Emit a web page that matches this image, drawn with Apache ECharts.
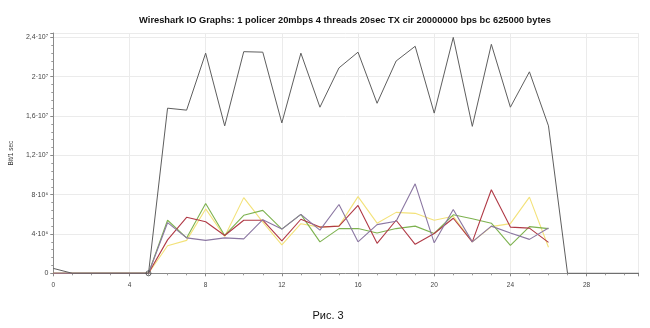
<!DOCTYPE html>
<html>
<head>
<meta charset="utf-8">
<script src="https://cdn.jsdelivr.net/npm/echarts@6/dist/echarts.min.js"></script>
<style>
html,body{margin:0;padding:0;background:#fff;}
#chart{width:650px;height:328px;}
</style>
</head>
<body>
<div id="chart"></div>
<script>
// ---- data (values in bits per second, in millions) ----
var titleText = 'Wireshark IO Graphs: 1 policer 20mbps 4 threads 20sec TX cir 20000000 bps bc 625000 bytes';
var captionText = 'Рис. 3';
var yAxisName = 'Bit/1 sec';
var yTickValues = [0, 4, 8, 12, 16, 20, 24];
var yTickLabels = ['0', '4·10⁶', '8·10⁶', '1,2·10⁷', '1,6·10⁷', '2·10⁷', '2,4·10⁷'];
var xTickValues = [0, 4, 8, 12, 16, 20, 24, 28];

var totalSeries = [0.5,0,0,0,0,0,16.8,16.6,22.4,15.0,22.55,22.5,15.3,22.4,16.9,20.9,22.5,17.3,21.6,23.1,16.3,24.0,14.95,23.3,16.9,20.5,15.0,0,0,0,0,0];
var greenSeries = [0,0,0,0,0,0,5.4,3.6,7.1,3.85,5.9,6.4,4.5,6.0,3.2,4.55,4.55,4.1,4.55,4.8,4.05,5.95,5.55,5.1,2.85,4.75,4.55];
var redSeries = [0,0,0,0,0,0,3.4,5.7,5.25,3.85,5.4,5.4,3.3,5.5,4.7,4.8,6.9,3.05,5.4,2.95,4.05,5.6,3.2,8.5,4.7,4.6,3.15];
var purpleSeries = [0,0,0,0,0,0,5.15,3.6,3.35,3.6,3.5,5.45,4.5,6.0,4.4,7.0,3.2,4.95,5.3,9.1,3.1,6.5,3.2,4.8,4.1,3.45,4.6];
var yellowSeries = [0,0,0,0,0,0,2.8,3.35,6.55,3.75,7.7,5.2,2.9,5.05,4.7,4.8,7.8,5.1,6.2,6.1,5.4,5.8,3.2,4.75,5.05,7.75,2.65];
var markerPoint = [5, 0];

var M = 1e6;
function toPairs(arr){ return arr.map(function(v,i){ return [i, v*M]; }); }

var chart = echarts.init(document.getElementById('chart'), null, {renderer:'canvas'});

function lineSeries(name, arr, color, w, z){
  return {name:name, type:'line', data:toPairs(arr), showSymbol:false, symbol:'none',
    lineStyle:{color:color, width:w}, itemStyle:{color:color}, z:z, clip:true, animation:false};
}

chart.setOption({
  animation:false,
  backgroundColor:'#ffffff',
  title:[{
    text:titleText, left:340, top:11, textAlign:'center',
    textStyle:{fontFamily:'Liberation Sans', fontWeight:'bold', fontSize:9.3, color:'#111'}
  },{
    text:captionText, left:323, top:305, textAlign:'center',
    textStyle:{fontFamily:'Liberation Sans', fontWeight:'normal', fontSize:11, color:'#111'}
  }],
  grid:{left:52, right:12, top:33, bottom:54.7, containLabel:false},
  xAxis:{
    type:'value', min:0, max:30.7, interval:4,
    offset:4,
    axisLine:{show:true, lineStyle:{color:'#8a8a8a', width:1}},
    axisTick:{show:true, length:3, inside:false, lineStyle:{color:'#8a8a8a'}},
    minorTick:{show:true, splitNumber:4, length:2, lineStyle:{color:'#9a9a9a'}},
    axisLabel:{fontFamily:'Liberation Sans', fontSize:6.5, color:'#444', margin:4,
      formatter:function(v){ return xTickValues.indexOf(Math.round(v*1000)/1000) >= 0 ? String(v) : ''; }},
    splitLine:{show:true, lineStyle:{color:'#ebebeb', width:1}}
  },
  yAxis:{
    type:'value', min:0, max:24.45*M, interval:4*M,
    name:yAxisName, nameLocation:'middle', nameGap:30, nameRotate:90,
    nameTextStyle:{fontFamily:'Liberation Sans', fontSize:6.5, color:'#333'},
    axisLine:{show:true, lineStyle:{color:'#8a8a8a', width:1}},
    axisTick:{show:true, length:3, lineStyle:{color:'#8a8a8a'}},
    minorTick:{show:true, splitNumber:5, length:2, lineStyle:{color:'#9a9a9a'}},
    axisLabel:{fontFamily:'Liberation Sans', fontSize:7, color:'#444', margin:5,
      formatter:function(v){ var k = yTickValues.indexOf(Math.round(v/M*1000)/1000); return k>=0 ? yTickLabels[k] : ''; }},
    splitLine:{show:true, lineStyle:{color:'#ebebeb', width:1}}
  },
  series:[
    lineSeries('green', greenSeries, '#7db24f', 1.1, 2),
    lineSeries('red', redSeries, '#b03a46', 1.1, 3),
    lineSeries('purple', purpleSeries, '#8b77a2', 1.1, 4),
    lineSeries('yellow', yellowSeries, '#f3e27a', 1.1, 1),
    lineSeries('total', totalSeries, '#5e5e5e', 1, 5),
    {name:'marker', type:'scatter', data:[[markerPoint[0], markerPoint[1]*M]], symbol:'circle', symbolSize:5,
      itemStyle:{color:'rgba(0,0,0,0)', borderColor:'#444', borderWidth:1}, z:6, animation:false}
  ]
});
</script>
</body>
</html>
